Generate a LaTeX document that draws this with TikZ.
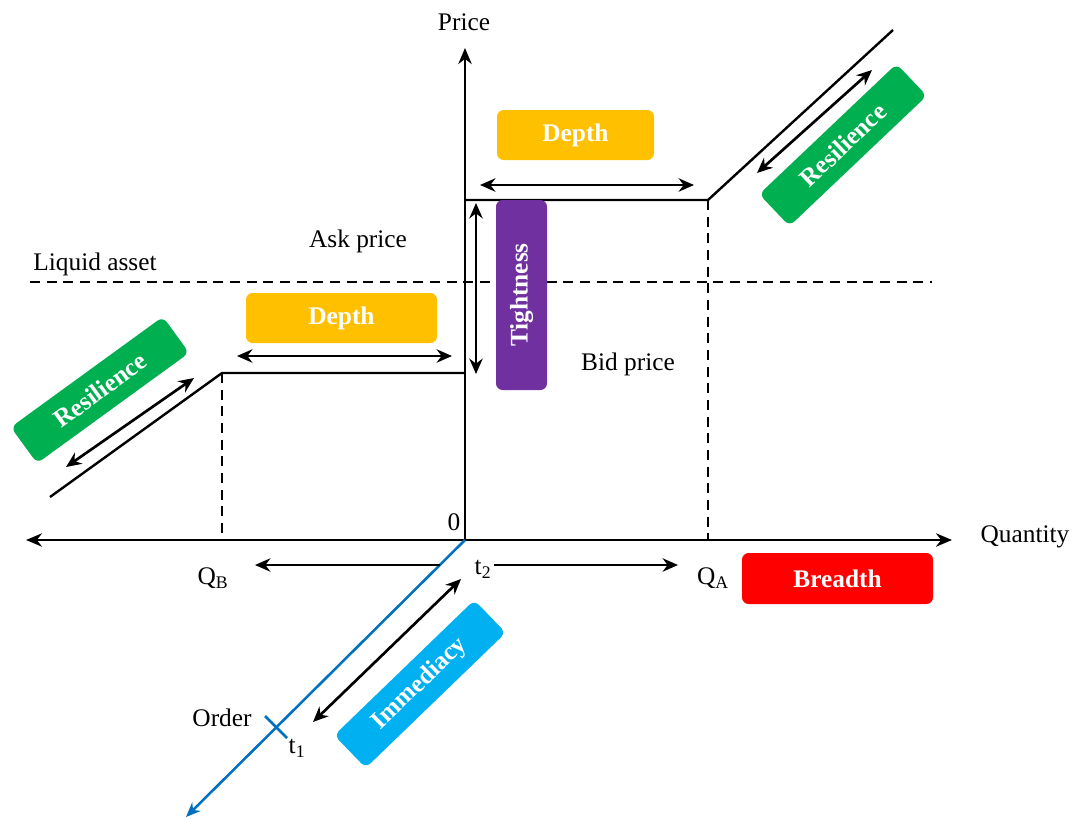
\documentclass[tikz,border=0pt]{standalone}
\usepackage{fontspec}
\setmainfont{Liberation Serif}
\usetikzlibrary{arrows.meta}
\definecolor{cdepth}{HTML}{FFC000}
\definecolor{ctight}{HTML}{7030A0}
\definecolor{cres}{HTML}{00B050}
\definecolor{cbread}{HTML}{FF0000}
\definecolor{cimm}{HTML}{00B0F0}
\definecolor{cblue}{HTML}{0070C0}
\begin{document}
\begin{tikzpicture}[x=0.75pt,y=-0.75pt,
  every node/.style={font=\fontsize{19}{22}\selectfont},
  lbl/.style={inner sep=0pt},
  box/.style={rounded corners=5pt, inner sep=0pt, text=white, font=\fontsize{19}{22}\selectfont\bfseries},
  axis/.style={line width=2pt, -{Stealth[length=12pt,width=10pt]}},
  curve/.style={line width=1.8pt},
  dsh/.style={line width=1.8pt, dash pattern=on 7.5pt off 5pt},
  dbl/.style={line width=2pt, {Stealth[length=11.5pt,width=10pt]}-{Stealth[length=11.5pt,width=10pt]}},
  one/.style={line width=2pt, -{Stealth[length=11.5pt,width=10pt]}}]
\useasboundingbox (0,0) rectangle (1074,818);

% key points
\coordinate (O) at (465,540);
\coordinate (Ptop) at (465,48);
\coordinate (Qleft) at (26,540);
\coordinate (Qright) at (952,540);
\coordinate (A0) at (465,200);
\coordinate (A1) at (708,200);
\coordinate (A2) at (893,30);
\coordinate (A1b) at (708,540);
\coordinate (B0) at (465,373);
\coordinate (B1) at (222,373);
\coordinate (B2) at (50,497);
\coordinate (B1b) at (222,540);
\coordinate (Lq1) at (30,282);
\coordinate (Lq2) at (932,282);
\coordinate (Bl) at (186,817);
\coordinate (T1a) at (265,716);
\coordinate (T1b) at (287,738);

% axes
\draw[axis] (O) -- (Ptop);
\draw[axis] (O) -- (Qright);
\draw[axis] (O) -- (Qleft);

% supply/demand steps
\draw[curve] (A0) -- (A1) -- (A2);
\draw[curve] (B0) -- (B1) -- (B2);
\draw[dsh] (A1) -- (A1b);
\draw[dsh] (B1) -- (B1b);
\draw[dsh] (Lq1) -- (Lq2);

% time line
\draw[line width=1.9pt, cblue, -{Stealth[length=11pt,width=9pt]}] (O) -- (Bl);
\draw[line width=2pt, cblue] (T1a) -- (T1b);

% labels
\node[lbl] (price) at (464,22) {Price};
\node[lbl] (quant) at (1025,537) {Quantity};
\node[lbl] (liq) at (95,264) {Liquid asset};
\node[lbl] (ask) at (358,241) {Ask price};
\node[lbl] (bid) at (628,364) {Bid price};
\node[lbl] (zero) at (454,522) {0};
\node[lbl] (QB) at (213,578) {Q\textsubscript{B}};
\node[lbl] (QA) at (713,578) {Q\textsubscript{A}};
\node[lbl] (t2) at (483,569) {t\textsubscript{2}};
\node[lbl] (order) at (222,718) {Order};
\node[lbl] (t1) at (297,748) {t\textsubscript{1}};

% boxes
\node[box, fill=cdepth, minimum width=117.75pt, minimum height=37.5pt] (depthA) at (575.5,135) {Depth};
\node[box, fill=cdepth, minimum width=143.25pt, minimum height=37.5pt] (depthB) at (341.5,318) {Depth};
\node[box, fill=ctight, minimum width=142.5pt, minimum height=38.25pt, rotate=90] (tight) at (521.5,295) {Tightness};
\node[box, fill=cres, minimum width=142pt, minimum height=33pt, rotate=43.5] (resA) at (843,145) {Resilience};
\node[box, fill=cres, minimum width=141pt, minimum height=33.5pt, rotate=36] (resB) at (100,390) {Resilience};
\node[box, fill=cbread, minimum width=143.25pt, minimum height=38.25pt] (bread) at (837.5,578.5) {Breadth};
\node[box, fill=cimm, minimum width=146pt, minimum height=34pt, rotate=44] (imm) at (420,684) {Immediacy};

% measurement arrows
\coordinate (dA1) at (480,185);
\coordinate (dA2) at (694,185);
\coordinate (dB1) at (237,356);
\coordinate (dB2) at (452,356);
\coordinate (tg1) at (476,203);
\coordinate (tg2) at (476,374);
\coordinate (rA1) at (757,173);
\coordinate (rA2) at (872,70);
\coordinate (rB1) at (66,467);
\coordinate (rB2) at (194,378);
\coordinate (im1) at (313,722);
\coordinate (im2) at (461,579);
\coordinate (qb1) at (440,565);
\coordinate (qb2) at (255,565);
\coordinate (qa1) at (494,565);
\coordinate (qa2) at (678,565);
\draw[dbl] (dA1) -- (dA2);
\draw[dbl] (dB1) -- (dB2);
\draw[dbl] (tg1) -- (tg2);
\draw[dbl] (rA1) -- (rA2);
\draw[dbl] (rB1) -- (rB2);
\draw[dbl] (im1) -- (im2);
\draw[one] (qb1) -- (qb2);
\draw[one] (qa1) -- (qa2);
\end{tikzpicture}
\end{document}
